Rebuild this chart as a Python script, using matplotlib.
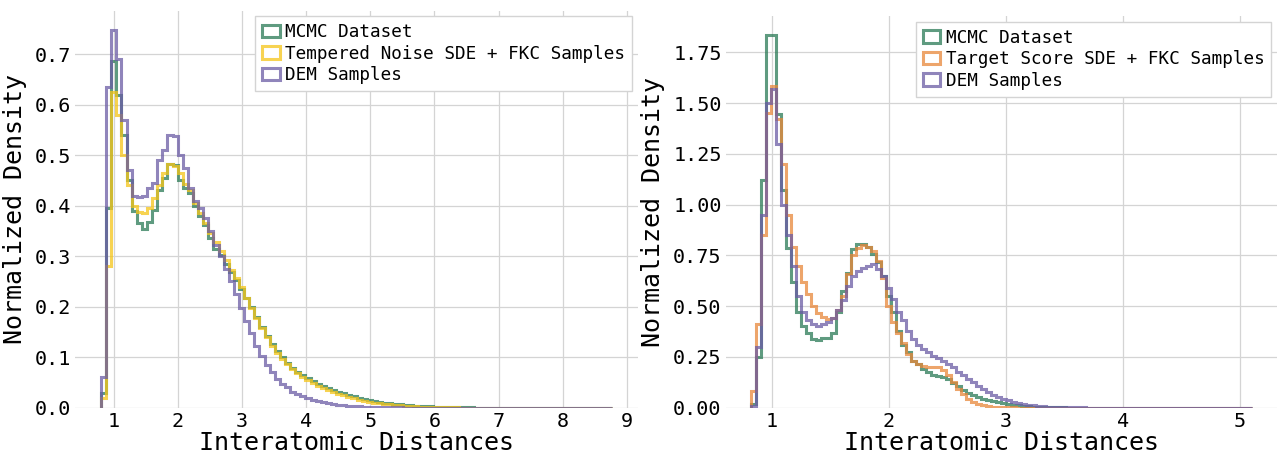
import numpy as np
import matplotlib.pyplot as plt

# histogram bins (start, width) for both panels
left_start, left_width = 0.80, 0.0797
right_start, right_width = 0.82, 0.0428

# left panel: normalized densities per bin
left_mcmc = [0.03, 0.395, 0.687, 0.618, 0.54, 0.45, 0.39, 0.365, 0.354, 0.368,
             0.392, 0.43, 0.455, 0.482, 0.48, 0.45, 0.435, 0.425, 0.40, 0.379,
             0.362, 0.336, 0.315, 0.302, 0.285, 0.268, 0.252, 0.235, 0.218, 0.20,
             0.18, 0.16, 0.142, 0.126, 0.112, 0.10, 0.089, 0.079, 0.071, 0.064,
             0.058, 0.052, 0.047, 0.043, 0.039, 0.035, 0.032, 0.029, 0.026, 0.023,
             0.020, 0.018, 0.016, 0.014, 0.012, 0.010, 0.009, 0.008, 0.007, 0.006,
             0.005, 0.004, 0.0035, 0.003, 0.0025, 0.002, 0.0015, 0.0012, 0.001, 0.0008,
             0.0006, 0.0005, 0.0004, 0.0003, 0.0003, 0.0002, 0.0002, 0.0001, 0.0001, 0.0001,
             0.0001, 0.0001, 0.0001, 0.0001, 0.0, 0.0001, 0.0, 0.0, 0.0001, 0.0,
             0.0, 0.0, 0.0, 0.0001, 0.0, 0.0, 0.0, 0.0, 0.0, 0.0001]
left_tempered = [0.02, 0.28, 0.625, 0.58, 0.50, 0.44, 0.40, 0.387, 0.385, 0.395,
                 0.415, 0.44, 0.465, 0.483, 0.478, 0.465, 0.443, 0.43, 0.405, 0.385,
                 0.365, 0.345, 0.328, 0.31, 0.292, 0.272, 0.256, 0.238, 0.218, 0.198,
                 0.178, 0.157, 0.139, 0.123, 0.109, 0.097, 0.086, 0.076, 0.068, 0.061,
                 0.054, 0.048, 0.043, 0.039, 0.035, 0.031, 0.028, 0.025, 0.022, 0.019,
                 0.016, 0.014, 0.012, 0.010, 0.009, 0.008, 0.007, 0.006, 0.005, 0.004,
                 0.003, 0.0025, 0.002, 0.0015, 0.0012, 0.001, 0.0008, 0.0006, 0.0005, 0.0004,
                 0.0003, 0.0002, 0.0002, 0.0001, 0.0001, 0.0001, 0.0, 0.0, 0.0, 0.0,
                 0.0, 0.0, 0.0, 0.0, 0.0, 0.0, 0.0, 0.0, 0.0, 0.0,
                 0.0, 0.0, 0.0, 0.0, 0.0, 0.0, 0.0, 0.0, 0.0, 0.0]
left_dem = [0.06, 0.635, 0.748, 0.69, 0.57, 0.47, 0.42, 0.417, 0.42, 0.435,
            0.445, 0.49, 0.51, 0.54, 0.538, 0.50, 0.475, 0.435, 0.41, 0.395,
            0.375, 0.35, 0.322, 0.30, 0.275, 0.25, 0.225, 0.198, 0.172, 0.148,
            0.122, 0.102, 0.085, 0.07, 0.057, 0.047, 0.04, 0.032, 0.027, 0.023,
            0.019, 0.016, 0.013, 0.011, 0.009, 0.0075, 0.006, 0.005, 0.004, 0.0033,
            0.0026, 0.002, 0.0016, 0.0012, 0.001, 0.0008, 0.0006, 0.0005, 0.0004, 0.0003,
            0.0002, 0.0002, 0.0001, 0.0001, 0.0001, 0.0, 0.0, 0.0, 0.0, 0.0,
            0.0, 0.0, 0.0, 0.0, 0.0, 0.0, 0.0, 0.0, 0.0, 0.0,
            0.0, 0.0, 0.0, 0.0, 0.0, 0.0, 0.0, 0.0, 0.0, 0.0,
            0.0, 0.0, 0.0, 0.0, 0.0, 0.0, 0.0, 0.0, 0.0, 0.0001]

# right panel
right_mcmc = [0.02, 0.25, 1.12, 1.835, 1.835, 1.445, 1.07, 0.785, 0.62, 0.47,
              0.40, 0.37, 0.34, 0.335, 0.345, 0.345, 0.37, 0.47, 0.575, 0.665,
              0.78, 0.805, 0.805, 0.79, 0.757, 0.715, 0.65, 0.55, 0.47, 0.38,
              0.31, 0.272, 0.232, 0.215, 0.19, 0.175, 0.16, 0.155, 0.15, 0.14,
              0.12, 0.105, 0.085, 0.072, 0.062, 0.053, 0.045, 0.037, 0.031, 0.026,
              0.021, 0.017, 0.014, 0.011, 0.009, 0.007, 0.005, 0.004, 0.003, 0.0025,
              0.002, 0.0015, 0.001, 0.0008, 0.0006, 0.0005, 0.0004, 0.0003, 0.0002, 0.0002,
              0.0001, 0.0001, 0.0001, 0.0, 0.0, 0.0, 0.0, 0.0, 0.0, 0.0,
              0.0, 0.0, 0.0, 0.0, 0.0, 0.0, 0.0, 0.0, 0.0, 0.0,
              0.0, 0.0, 0.0, 0.0, 0.0, 0.0, 0.0, 0.0, 0.0, 0.0]
right_target = [0.08, 0.41, 0.85, 1.45, 1.585, 1.42, 1.2, 0.95, 0.79, 0.70,
                0.62, 0.56, 0.50, 0.465, 0.445, 0.435, 0.44, 0.48, 0.55, 0.66,
                0.75, 0.785, 0.80, 0.79, 0.77, 0.72, 0.64, 0.50, 0.42, 0.37,
                0.32, 0.265, 0.232, 0.215, 0.205, 0.2, 0.2, 0.2, 0.185, 0.16,
                0.125, 0.092, 0.065, 0.042, 0.028, 0.018, 0.012, 0.008, 0.005, 0.004,
                0.003, 0.002, 0.001, 0.0008, 0.0005, 0.0003, 0.0002, 0.0001, 0.0, 0.0,
                0.0, 0.0, 0.0, 0.0, 0.0, 0.0, 0.0, 0.0, 0.0, 0.0,
                0.0, 0.0, 0.0, 0.0, 0.0, 0.0, 0.0, 0.0, 0.0, 0.0,
                0.0, 0.0, 0.0, 0.0, 0.0, 0.0, 0.0, 0.0, 0.0, 0.0,
                0.0, 0.0, 0.0, 0.0, 0.0, 0.0, 0.0, 0.0, 0.0, 0.0]
right_dem = [0.01, 0.30, 0.95, 1.50, 1.57, 1.30, 1.0, 0.85, 0.70, 0.55,
             0.47, 0.43, 0.41, 0.404, 0.41, 0.42, 0.44, 0.48, 0.53, 0.60,
             0.65, 0.674, 0.69, 0.70, 0.707, 0.685, 0.65, 0.59, 0.535, 0.47,
             0.43, 0.38, 0.34, 0.31, 0.29, 0.272, 0.255, 0.245, 0.232, 0.215,
             0.2, 0.178, 0.16, 0.141, 0.125, 0.108, 0.092, 0.075, 0.062, 0.051,
             0.043, 0.036, 0.028, 0.022, 0.018, 0.014, 0.011, 0.008, 0.007, 0.005,
             0.004, 0.003, 0.003, 0.002, 0.002, 0.0015, 0.001, 0.0008, 0.0006, 0.0005,
             0.0004, 0.0003, 0.0002, 0.0002, 0.0001, 0.0001, 0.0001, 0.0, 0.0, 0.0,
             0.0, 0.0, 0.0, 0.0, 0.0, 0.0, 0.0, 0.0, 0.0, 0.0,
             0.0, 0.0, 0.0, 0.0, 0.0, 0.0, 0.0, 0.0, 0.0, 0.0001]

left_labels = ['MCMC Dataset', 'Tempered Noise SDE + FKC Samples', 'DEM Samples']
right_labels = ['MCMC Dataset', 'Target Score SDE + FKC Samples', 'DEM Samples']

c_mcmc = '#2a7a55'
c_temp = '#f5c518'
c_target = '#e8873a'
c_dem = '#6b5ca5'

plt.rcParams['font.family'] = ['DejaVu Sans Mono']

fig = plt.figure(figsize=(12.78, 4.55), dpi=100)
ax1 = fig.add_axes([0.059, 0.104, 0.44, 0.872])
ax2 = fig.add_axes([0.568, 0.104, 0.431, 0.860])


def panel(ax, start, width, series, colors, labels, yfmt):
    n = len(series[0])
    edges = start + width * np.arange(n + 1)
    for vals, col, lab in zip(series, colors, labels):
        ax.hist(edges[:-1], bins=edges, weights=vals, histtype='step',
                color=col, lw=2.2, alpha=0.75, label=lab)
    for s in ax.spines.values():
        s.set_visible(False)
    ax.grid(True, color='#d4d4d4', lw=0.9)
    ax.set_axisbelow(True)
    ax.tick_params(length=0, labelsize=14.5, pad=3)
    ax.yaxis.set_major_formatter(plt.FormatStrFormatter(yfmt))
    ax.set_xlabel('Interatomic Distances', fontsize=18, labelpad=0)
    ax.set_ylabel('Normalized Density', fontsize=18, labelpad=6)
    ax.legend(loc='upper right', fontsize=12.7, handlelength=1.0,
              handletextpad=0.3, labelspacing=0.2, borderpad=0.4,
              borderaxespad=0.3, framealpha=1, edgecolor='#d4d4d4',
              fancybox=False)


panel(ax1, left_start, left_width, [left_mcmc, left_tempered, left_dem],
      [c_mcmc, c_temp, c_dem], left_labels, '%.1f')
panel(ax2, right_start, right_width, [right_mcmc, right_target, right_dem],
      [c_mcmc, c_target, c_dem], right_labels, '%.2f')
ax1.set_yticks(np.arange(0, 0.71, 0.1))
ax2.set_yticks(np.arange(0, 1.76, 0.25))

fig.savefig('out.png', dpi=100)
